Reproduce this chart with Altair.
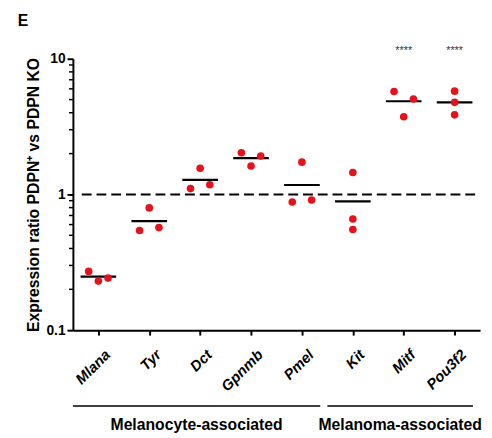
import json
import altair as alt
import pandas as pd

genes = ["Mlana", "Tyr", "Dct", "Gpnmb", "Pmel", "Kit", "Mitf", "Pou3f2"]
rep1 = [0.271, 0.796, 1.56, 2.03, 1.73, 1.45, 5.74, 5.77]
rep2 = [0.230, 0.542, 1.105, 1.92, 0.879, 0.659, 5.05, 4.77]
rep3 = [0.242, 0.570, 1.18, 1.62, 0.91, 0.552, 3.74, 3.86]
means = [0.248, 0.637, 1.28, 1.85, 1.175, 0.89, 4.86, 4.77]
# horizontal side of each replicate dot (-1 left, 0 centre, 1 right)
side1 = [-1, 0, 0, -1, 0, 0, -1, 0]
side2 = [0, -1, -1, 1, -1, 0, 1, 0]
side3 = [1, 1, 1, 0, 1, 0, 0, 0]
significance = ["", "", "", "", "", "", "****", "****"]
groups = ["Melanocyte-associated", "Melanoma-associated"]
group_first = [0, 5]
group_last = [4, 7]
panel_label = ["E"]
y_ticks = [0.1, 1, 10]
y_minor = [m * 10 ** e for e in (-1, 0) for m in range(2, 10)]

FONT = "Liberation Sans"
RED = "#e5121b"
W, H = 414, 276

pts = []
for i, g in enumerate(genes):
    for v, s in ((rep1[i], side1[i]), (rep2[i], side2[i]), (rep3[i], side3[i])):
        pts.append({"gene": g, "idx": i, "side": s, "value": v})
pts = pd.DataFrame(pts)
mean_df = pd.DataFrame({"gene": genes, "idx": range(len(genes)), "mean": means,
                        "sig": significance})
grp_df = pd.DataFrame({"group": groups, "first": group_first, "last": group_last})
minor_df = pd.DataFrame({"v": y_minor})
one_df = pd.DataFrame({"v": [1]})
panel_df = pd.DataFrame({"t": panel_label})

label_expr = json.dumps(genes) + "[datum.value]"
xscale = alt.Scale(domain=[-0.5, len(genes) - 0.5], nice=False, zero=False)
yscale = alt.Scale(type="log", domain=[0.1, 10], nice=False)

x_axis = alt.Axis(values=list(range(len(genes))), labelExpr=label_expr, title=None,
                  grid=False, labelAngle=-45, labelAlign="right", labelBaseline="top",
                  labelFont=FONT, labelFontSize=15, labelFontWeight="bold",
                  labelFontStyle="italic", labelColor="black", labelPadding=12,
                  labelOffset=4,
                  tickSize=5, tickWidth=2, tickColor="black",
                  domainColor="black", domainWidth=2)
y_axis = alt.Axis(values=y_ticks, format="~g", grid=False,
                  title="Expression ratio PDPN⁺ vs  PDPN KO",
                  titleFont=FONT, titleFontSize=16, titleFontWeight="bold",
                  titleColor="black", titlePadding=5,
                  labelFont=FONT, labelFontSize=14, labelFontWeight="bold",
                  labelColor="black", labelPadding=2,
                  tickSize=6, tickWidth=2, tickColor="black",
                  domainColor="black", domainWidth=2)

base_x = alt.X("xpos:Q", scale=xscale, axis=x_axis)

dots = alt.Chart(pts).transform_calculate(
    xpos="datum.idx + datum.side * 0.19"
).mark_circle(size=60, color=RED, opacity=1).encode(
    x=base_x,
    y=alt.Y("value:Q", scale=yscale, axis=y_axis),
)

mean_lines = alt.Chart(mean_df).transform_calculate(
    xa="datum.idx - 0.35", xb="datum.idx + 0.35"
).mark_rule(color="black", strokeWidth=2.2).encode(
    x=alt.X("xa:Q", scale=xscale), x2="xb:Q",
    y=alt.Y("mean:Q", scale=yscale),
)

ref_line = alt.Chart(one_df).mark_rule(
    color="black", strokeWidth=2, strokeDash=[10, 5]
).encode(x=alt.value(9), x2=alt.value(W), y=alt.Y("v:Q", scale=yscale))

minor_ticks = alt.Chart(minor_df).mark_rule(color="black", strokeWidth=1.5).encode(
    x=alt.value(-4), x2=alt.value(0), y=alt.Y("v:Q", scale=yscale)
)

stars = alt.Chart(mean_df).mark_text(
    font=FONT, fontSize=11, color="#333333", baseline="middle"
).encode(x=alt.X("idx:Q", scale=xscale), y=alt.value(-8), text="sig:N")

grp_lines = alt.Chart(grp_df).transform_calculate(
    xa="datum.first - 0.5", xb="datum.last + 0.36"
).mark_rule(color="black", strokeWidth=1.5).encode(
    x=alt.X("xa:Q", scale=xscale), x2="xb:Q", y=alt.value(H + 77)
)

grp_text = alt.Chart(grp_df).transform_calculate(
    xm="(datum.first - 0.5 + datum.last + 0.36) / 2"
).mark_text(font=FONT, fontSize=16, fontWeight="bold", color="black",
            baseline="middle").encode(
    x=alt.X("xm:Q", scale=xscale), y=alt.value(H + 97), text="group:N"
)

panel = alt.Chart(panel_df).mark_text(
    font=FONT, fontSize=16, fontWeight="bold", color="black",
    align="left", baseline="middle"
).encode(x=alt.value(-56), y=alt.value(-38), text="t:N")

chart = alt.layer(
    ref_line, minor_ticks, mean_lines, dots, stars, grp_lines, grp_text, panel
).properties(
    width=W, height=H,
    autosize=alt.AutoSizeParams(type="none"),
    padding={"left": 66, "top": 48, "right": 4, "bottom": 104},
).configure_view(stroke=None)

chart.save("out.html", embed_options={"renderer": "svg", "actions": False})
